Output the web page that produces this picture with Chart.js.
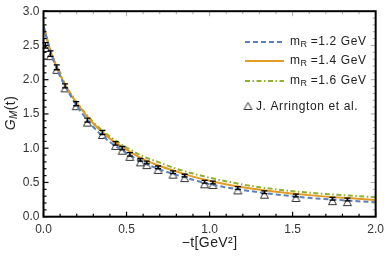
<!DOCTYPE html>
<html>
<head>
<meta charset="utf-8">
<script src="https://cdn.jsdelivr.net/npm/chart.js@4/dist/chart.umd.min.js"></script>
<style>
  html, body { margin: 0; padding: 0; background: #fff; }
  #wrap { width: 390px; height: 263px; }
</style>
</head>
<body>
<div id="wrap"><canvas id="c" width="390" height="263"></canvas></div>
<script>
// model curves, sampled in -t
const curveT = [0, 0.05, 0.1, 0.15, 0.2, 0.3, 0.4, 0.5, 0.6, 0.7, 0.8, 0.9, 1.0, 1.2, 1.4, 1.6, 1.8, 2.0];
const gm12 = [2.78, 2.35, 2.05, 1.82, 1.62, 1.31, 1.09, 0.93, 0.79, 0.69, 0.61, 0.54, 0.475, 0.39, 0.325, 0.275, 0.24, 0.21];
const gm14 = [2.78, 2.36, 2.07, 1.84, 1.66, 1.36, 1.14, 0.98, 0.84, 0.74, 0.66, 0.585, 0.525, 0.43, 0.365, 0.315, 0.275, 0.245];
const gm16 = [2.78, 2.37, 2.08, 1.85, 1.67, 1.38, 1.17, 1.01, 0.88, 0.79, 0.70, 0.63, 0.57, 0.47, 0.40, 0.35, 0.315, 0.285];

// J. Arrington et al. points
const dataT = [0.012, 0.042, 0.08, 0.13, 0.197, 0.264, 0.355, 0.434, 0.474, 0.52, 0.583, 0.622, 0.69, 0.78, 0.85, 0.97, 1.02, 1.17, 1.33, 1.52, 1.74, 1.83];
const dataG = [2.50, 2.38, 2.18, 1.91, 1.65, 1.41, 1.23, 1.07, 1.00, 0.91, 0.83, 0.79, 0.72, 0.65, 0.60, 0.51, 0.50, 0.42, 0.357, 0.31, 0.263, 0.25];
const dataErr = [0.04, 0.04, 0.035, 0.03, 0.03, 0.03, 0.03, 0.025, 0.025, 0.025, 0.02, 0.02, 0.02, 0.02, 0.02, 0.02, 0.02, 0.02, 0.02, 0.02, 0.02, 0.02];

const xTicks = [0, 0.5, 1.0, 1.5, 2.0];
const yTicks = [0, 0.5, 1.0, 1.5, 2.0, 2.5, 3.0];

const blue = '#5E81B5', orange = '#E19C24', green = '#8FB032';
const font = "'Liberation Sans', Arial, sans-serif";

function pts(xs, ys) { return xs.map((x, i) => ({ x: x, y: ys[i] })); }

// open triangle, drawn a little below the point like the original glyph
function triangleImg(color) {
  const cv = document.createElement('canvas');
  cv.width = 11; cv.height = 17;
  const g = cv.getContext('2d');
  g.strokeStyle = color; g.lineWidth = 1;
  g.beginPath();
  g.moveTo(5.5, 7.5); g.lineTo(9.5, 14.5); g.lineTo(1.5, 14.5); g.closePath();
  g.stroke();
  return cv;
}
const tri = triangleImg('#333');

const frame = {
  id: 'frame',
  afterDatasetsDraw(chart) {
    const ctx = chart.ctx, a = chart.chartArea;
    const xs = chart.scales.x, ys = chart.scales.y;
    ctx.save();
    // error bars
    ctx.strokeStyle = '#000'; ctx.lineWidth = 1.3;
    dataT.forEach((t, i) => {
      const px = xs.getPixelForValue(t);
      const top = ys.getPixelForValue(dataG[i] + dataErr[i]);
      const bot = ys.getPixelForValue(dataG[i] - dataErr[i]);
      ctx.beginPath();
      ctx.moveTo(px, top); ctx.lineTo(px, bot);
      ctx.moveTo(px - 3, top); ctx.lineTo(px + 3, top);
      ctx.moveTo(px - 3, bot); ctx.lineTo(px + 3, bot);
      ctx.stroke();
    });
    // ticks
    for (let v = 0; v <= 20; v++) {
      const px = xs.getPixelForValue(v / 10);
      const len = v % 5 === 0 ? 5 : 3;
      ctx.strokeStyle = '#000'; ctx.lineWidth = 1.2;
      ctx.beginPath(); ctx.moveTo(px, a.bottom); ctx.lineTo(px, a.bottom - len); ctx.stroke();
      ctx.strokeStyle = '#aaa'; ctx.lineWidth = 1;
      ctx.beginPath(); ctx.moveTo(px, a.top); ctx.lineTo(px, a.top + len); ctx.stroke();
    }
    for (let v = 0; v <= 30; v++) {
      const py = ys.getPixelForValue(v / 10);
      const len = v % 5 === 0 ? 5 : 3;
      ctx.strokeStyle = '#000'; ctx.lineWidth = 1.2;
      ctx.beginPath(); ctx.moveTo(a.left, py); ctx.lineTo(a.left + len, py); ctx.stroke();
      ctx.strokeStyle = '#aaa'; ctx.lineWidth = 1;
      ctx.beginPath(); ctx.moveTo(a.right, py); ctx.lineTo(a.right - len, py); ctx.stroke();
    }
    ctx.strokeStyle = '#000'; ctx.lineWidth = 2;
    ctx.strokeRect(a.left, a.top, a.right - a.left, a.bottom - a.top);

    // legend
    const rows = [
      { c: blue, d: [5, 3], v: '1.2', y: 42 },
      { c: orange, d: [], v: '1.4', y: 61 },
      { c: green, d: [5, 2.5, 1.5, 2.5], v: '1.6', y: 81 }
    ];
    ctx.textBaseline = 'middle';
    ctx.letterSpacing = '0.6px';
    rows.forEach(r => {
      ctx.strokeStyle = r.c; ctx.lineWidth = 2; ctx.setLineDash(r.d);
      ctx.beginPath(); ctx.moveTo(245, r.y); ctx.lineTo(284, r.y); ctx.stroke();
      ctx.setLineDash([]);
      ctx.fillStyle = '#222';
      ctx.font = '12px ' + font;
      ctx.textAlign = 'left';
      ctx.fillText('m', 290, r.y);
      let w = ctx.measureText('m').width;
      ctx.font = '9px ' + font;
      ctx.fillText('R', 290 + w, r.y + 3);
      w += ctx.measureText('R').width + 3;
      ctx.font = '12px ' + font;
      ctx.fillText('=' + r.v + ' GeV', 290 + w, r.y);
    });
    ctx.drawImage(tri, 248 - 5.5, 106 - 11);
    ctx.font = '12px ' + font;
    ctx.fillStyle = '#222';
    ctx.fillText('J. Arrington et al.', 256, 107);

    // axis titles
    ctx.letterSpacing = '0.4px';
    ctx.textAlign = 'center';
    ctx.font = '14px ' + font;
    ctx.fillText('\u2212t[GeV\u00B2]', xs.getPixelForValue(1.0), 243);
    ctx.translate(11, 113);
    ctx.rotate(-Math.PI / 2);
    ctx.textAlign = 'left';
    ctx.font = 'italic 14px ' + font;
    const gW = ctx.measureText('G').width;
    ctx.font = 'italic 10px ' + font;
    const mW = ctx.measureText('M').width;
    ctx.font = '14px ' + font;
    const tW = ctx.measureText('(t)').width;
    let x0 = -(gW + mW + tW) / 2;
    ctx.font = 'italic 14px ' + font;
    ctx.fillText('G', x0, 0);
    ctx.font = 'italic 10px ' + font;
    ctx.fillText('M', x0 + gW, 3);
    ctx.font = '14px ' + font;
    ctx.fillText('(t)', x0 + gW + mW, 0);
    ctx.restore();
  }
};

const lineDs = (label, ys, color, dash) => ({
  label: label, data: pts(curveT, ys), borderColor: color, borderWidth: 2,
  borderDash: dash, pointRadius: 0, fill: false, tension: 0.4,
  cubicInterpolationMode: 'monotone'
});

new Chart(document.getElementById('c'), {
  type: 'line',
  data: {
    datasets: [
      lineDs('m_R=1.2 GeV', gm12, blue, [5, 3]),
      lineDs('m_R=1.4 GeV', gm14, orange, []),
      lineDs('m_R=1.6 GeV', gm16, green, [5, 2.5, 1.5, 2.5]),
      {
        label: 'J. Arrington et al.', type: 'scatter', data: pts(dataT, dataG),
        pointStyle: tri, pointRadius: 5, showLine: false
      }
    ]
  },
  options: {
    responsive: false, animation: false,
    layout: { padding: { left: 0, right: 9.5, top: 6.7, bottom: 0 } },
    plugins: { legend: { display: false }, tooltip: { enabled: false } },
    scales: {
      x: {
        type: 'linear', min: 0, max: 2,
        afterFit: s => { s.height = 46.3; },
        afterBuildTicks: s => { s.ticks = xTicks.map(v => ({ value: v })); },
        grid: { display: false, drawTicks: false }, border: { display: false },
        ticks: { padding: 6, color: '#333', font: { family: font, size: 12 }, callback: v => v.toFixed(1), maxRotation: 0 }
      },
      y: {
        type: 'linear', min: 0, max: 3,
        afterFit: s => { s.width = 43.5; },
        afterBuildTicks: s => { s.ticks = yTicks.map(v => ({ value: v })); },
        grid: { display: false, drawTicks: false }, border: { display: false },
        ticks: { padding: 4, color: '#333', font: { family: font, size: 12 }, callback: v => v.toFixed(1) }
      }
    }
  },
  plugins: [frame]
});
</script>
</body>
</html>
